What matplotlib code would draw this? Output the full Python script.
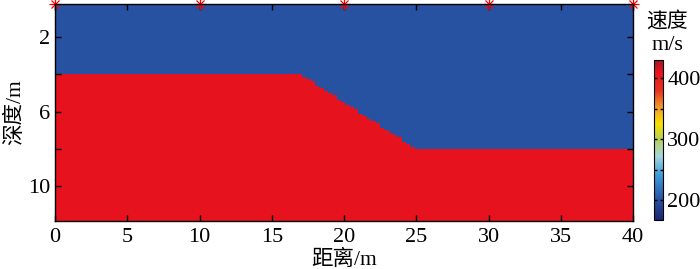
import numpy as np
import matplotlib
matplotlib.use('Agg')
import matplotlib.pyplot as plt
from matplotlib.colors import LinearSegmentedColormap
from matplotlib.ticker import FixedLocator

plt.rcParams['font.family'] = ['Liberation Serif', 'Noto Sans CJK SC']
plt.rcParams['axes.unicode_minus'] = False

# model description
layer_vel = [200, 410]          # upper / lower layer velocity (m/s)
iface_x = [0, 17, 25, 40]       # interface knots (m)
iface_z = [4, 4, 8, 8]          # interface depth (m)
shot_x = [0, 10, 20, 30, 40]    # source positions on surface
xticks = [0, 5, 10, 15, 20, 25, 30, 35, 40]
yticks_lab = [2, 6, 10]
yticks_min = [4, 8]
cb_ticks = [200, 300, 400]
cb_minor = [250, 350]

# colormap nodes sampled from the colorbar
cm_vals = [167, 200, 240, 272, 300, 325, 352, 380, 410, 430]
cm_cols = ['#1c2670', '#2752a2', '#3c9ad6', '#a6d6dc', '#b9cf55', '#f6e100',
           '#f29a2e', '#e8321e', '#e8121e', '#9c1c26']
vmin, vmax = cm_vals[0], cm_vals[-1]
cmap = LinearSegmentedColormap.from_list(
    'vel', [((v - vmin) / (vmax - vmin), c) for v, c in zip(cm_vals, cm_cols)])

dx, dz = 0.3, 0.125
xe = np.arange(0, 40 + dx, dx)
ze = np.arange(0, 12.0 + dz, dz)
xc = 0.5 * (xe[1:] + xe[:-1])
zc = 0.5 * (ze[1:] + ze[:-1])
zi = np.interp(xc, iface_x, iface_z)
V = np.where(zc[:, None] > zi[None, :], layer_vel[1], layer_vel[0])

fig = plt.figure(figsize=(7.0, 2.69), dpi=100)
ax = fig.add_axes([55 / 700, 48.3 / 269, 578 / 700, 217.2 / 269])
pm = ax.pcolormesh(xe, ze, V, cmap=cmap, vmin=vmin, vmax=vmax, shading='flat')
ax.set_xlim(0, 40)
ax.set_ylim(11.85, 0.2)

ax.plot(shot_x, [0.2] * len(shot_x), '+', color='red', ms=8, mew=0.9, clip_on=False)
ax.plot(shot_x, [0.2] * len(shot_x), 'x', color='red', ms=6, mew=0.9, clip_on=False)

ax.set_xticks(xticks)
ax.set_yticks(yticks_lab)
ax.yaxis.set_minor_locator(FixedLocator(yticks_min))
ax.tick_params(which='both', direction='in', top=True, right=True, length=4.5,
               width=1, labelsize=16)
ax.tick_params(axis='x', pad=5)
for s in ax.spines.values():
    s.set_linewidth(1)
ax.set_xlabel('距离/m', fontsize=15.5, labelpad=2)
ax.set_ylabel('深度/m', fontsize=15.5, labelpad=2)

cax = fig.add_axes([654 / 700, 49 / 269, 9 / 700, 160 / 269])
cb = fig.colorbar(pm, cax=cax)
cb.set_ticks(cb_ticks)
cax.yaxis.set_minor_locator(FixedLocator(cb_minor))
cax.tick_params(which='both', direction='in', length=2.5, width=1, labelsize=16,
                left=True, right=True, pad=3)
cb.outline.set_linewidth(0.8)
fig.text(667 / 700, 1 - 22 / 269, '速度', fontsize=15, ha='center', va='center')
fig.text(667 / 700, 1 - 45 / 269, 'm/s', fontsize=16, ha='center', va='center')

fig.savefig('out.png', dpi=100)
